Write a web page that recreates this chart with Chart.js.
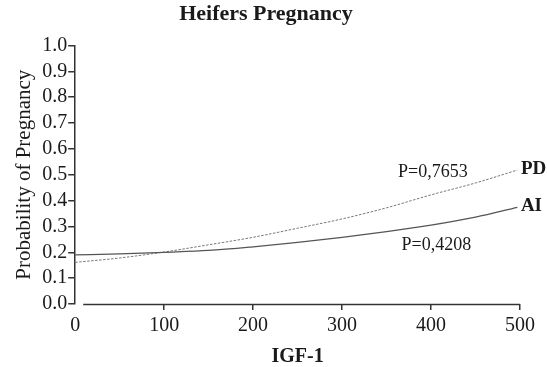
<!DOCTYPE html>
<html>
<head>
<meta charset="utf-8">
<script src="https://cdn.jsdelivr.net/npm/chart.js@4"></script>
<style>
	html, body { margin: 0; padding: 0; background: #fff; }
	canvas { display: block; }
</style>
</head>
<body>
<canvas id="chart" width="547" height="367"></canvas>
<script>
// values
const igfValues = [0, 50, 100, 150, 200, 250, 300, 350, 400, 450, 497];
const aiProbability = [0.190, 0.194, 0.200, 0.207, 0.221, 0.238, 0.258, 0.280, 0.305, 0.336, 0.374];
const pdProbability = [0.161, 0.178, 0.201, 0.229, 0.258, 0.293, 0.329, 0.372, 0.422, 0.468, 0.518];
const seriesNames = ["AI", "PD"];
const xTickValues = [0, 100, 200, 300, 400, 500];

// curve labels and p-values, in data units
const curveNotes = [
	{ text: "P=0,7653", x: 402, y: 0.51, bold: false, size: 18, align: "center" },
	{ text: "P=0,4208", x: 406, y: 0.226, bold: false, size: 18, align: "center" },
	{ text: "PD", x: 501, y: 0.522, bold: true, size: 19, align: "left" },
	{ text: "AI", x: 501, y: 0.378, bold: true, size: 19, align: "left" },
];

const serif = "'Liberation Serif', 'Times New Roman', serif";
const inkColor = "#1a1a1a";

const notesPlugin = {
	id: "curveNotes",
	afterDatasetsDraw(chart) {
		const { ctx, scales } = chart;
		ctx.save();
		ctx.fillStyle = inkColor;
		ctx.textBaseline = "middle";
		curveNotes.forEach((n) => {
			ctx.font = (n.bold ? "bold " : "") + n.size + "px " + serif;
			ctx.textAlign = n.align;
			ctx.fillText(n.text, scales.x.getPixelForValue(n.x), scales.y.getPixelForValue(n.y));
		});
		ctx.restore();
	},
};

// x axis line starts a little right of the y axis, like the original
const xAxisLinePlugin = {
	id: "xAxisLine",
	afterDraw(chart) {
		const { ctx, chartArea } = chart;
		ctx.save();
		ctx.strokeStyle = "#333";
		ctx.lineWidth = 1.5;
		ctx.beginPath();
		ctx.moveTo(chartArea.left + 8, chartArea.bottom + 0.5);
		ctx.lineTo(chartArea.right, chartArea.bottom + 0.5);
		ctx.stroke();
		ctx.restore();
	},
};

new Chart(document.getElementById("chart"), {
	type: "line",
	data: {
		datasets: [
			{
				label: seriesNames[0],
				data: igfValues.map((x, i) => ({ x, y: aiProbability[i] })),
				borderColor: "#555",
				borderWidth: 1.3,
				pointRadius: 0,
				cubicInterpolationMode: "monotone",
				fill: false,
			},
			{
				label: seriesNames[1],
				data: igfValues.map((x, i) => ({ x, y: pdProbability[i] })),
				borderColor: "#777",
				borderWidth: 1,
				borderDash: [2.5, 1.5],
				pointRadius: 0,
				cubicInterpolationMode: "monotone",
				fill: false,
			},
		],
	},
	options: {
		responsive: false,
		animation: false,
		layout: { padding: { left: 12, right: 27, top: 0, bottom: 0 } },
		plugins: {
			legend: { display: false },
			tooltip: { enabled: false },
			title: {
				display: true,
				text: "Heifers Pregnancy",
				color: inkColor,
				font: { family: serif, size: 22, weight: "bold" },
				padding: { top: 1, bottom: 18 },
			},
		},
		scales: {
			x: {
				type: "linear",
				min: 0,
				max: 500,
				afterBuildTicks: (axis) => {
					axis.ticks = xTickValues.map((v) => ({ value: v }));
				},
				border: { display: false },
				grid: {
					drawOnChartArea: false,
					drawTicks: true,
					tickLength: 6,
					color: "#333",
					lineWidth: (c) => (c.index === 0 ? 0 : 1.5),
				},
				ticks: {
					color: inkColor,
					font: { family: serif, size: 20, lineHeight: 1 },
					padding: 6,
					maxRotation: 0,
				},
				title: {
					display: true,
					text: "IGF-1",
					color: inkColor,
					font: { family: serif, size: 20, weight: "bold", lineHeight: 1 },
					padding: { top: 5, bottom: 0 },
				},
			},
			y: {
				min: 0,
				max: 1,
				border: { display: true, color: "#333", width: 1.5 },
				grid: {
					drawOnChartArea: false,
					drawTicks: true,
					tickLength: 7,
					color: "#333",
					lineWidth: 1.5,
				},
				ticks: {
					stepSize: 0.1,
					autoSkip: false,
					color: inkColor,
					font: { family: serif, size: 20 },
					padding: 1,
					callback: (v) => v.toFixed(1),
				},
				title: {
					display: true,
					text: "Probability of Pregnancy",
					color: inkColor,
					font: { family: serif, size: 21 },
					padding: { top: 0, bottom: 4 },
				},
			},
		},
	},
	plugins: [notesPlugin, xAxisLinePlugin],
});
</script>
</body>
</html>
